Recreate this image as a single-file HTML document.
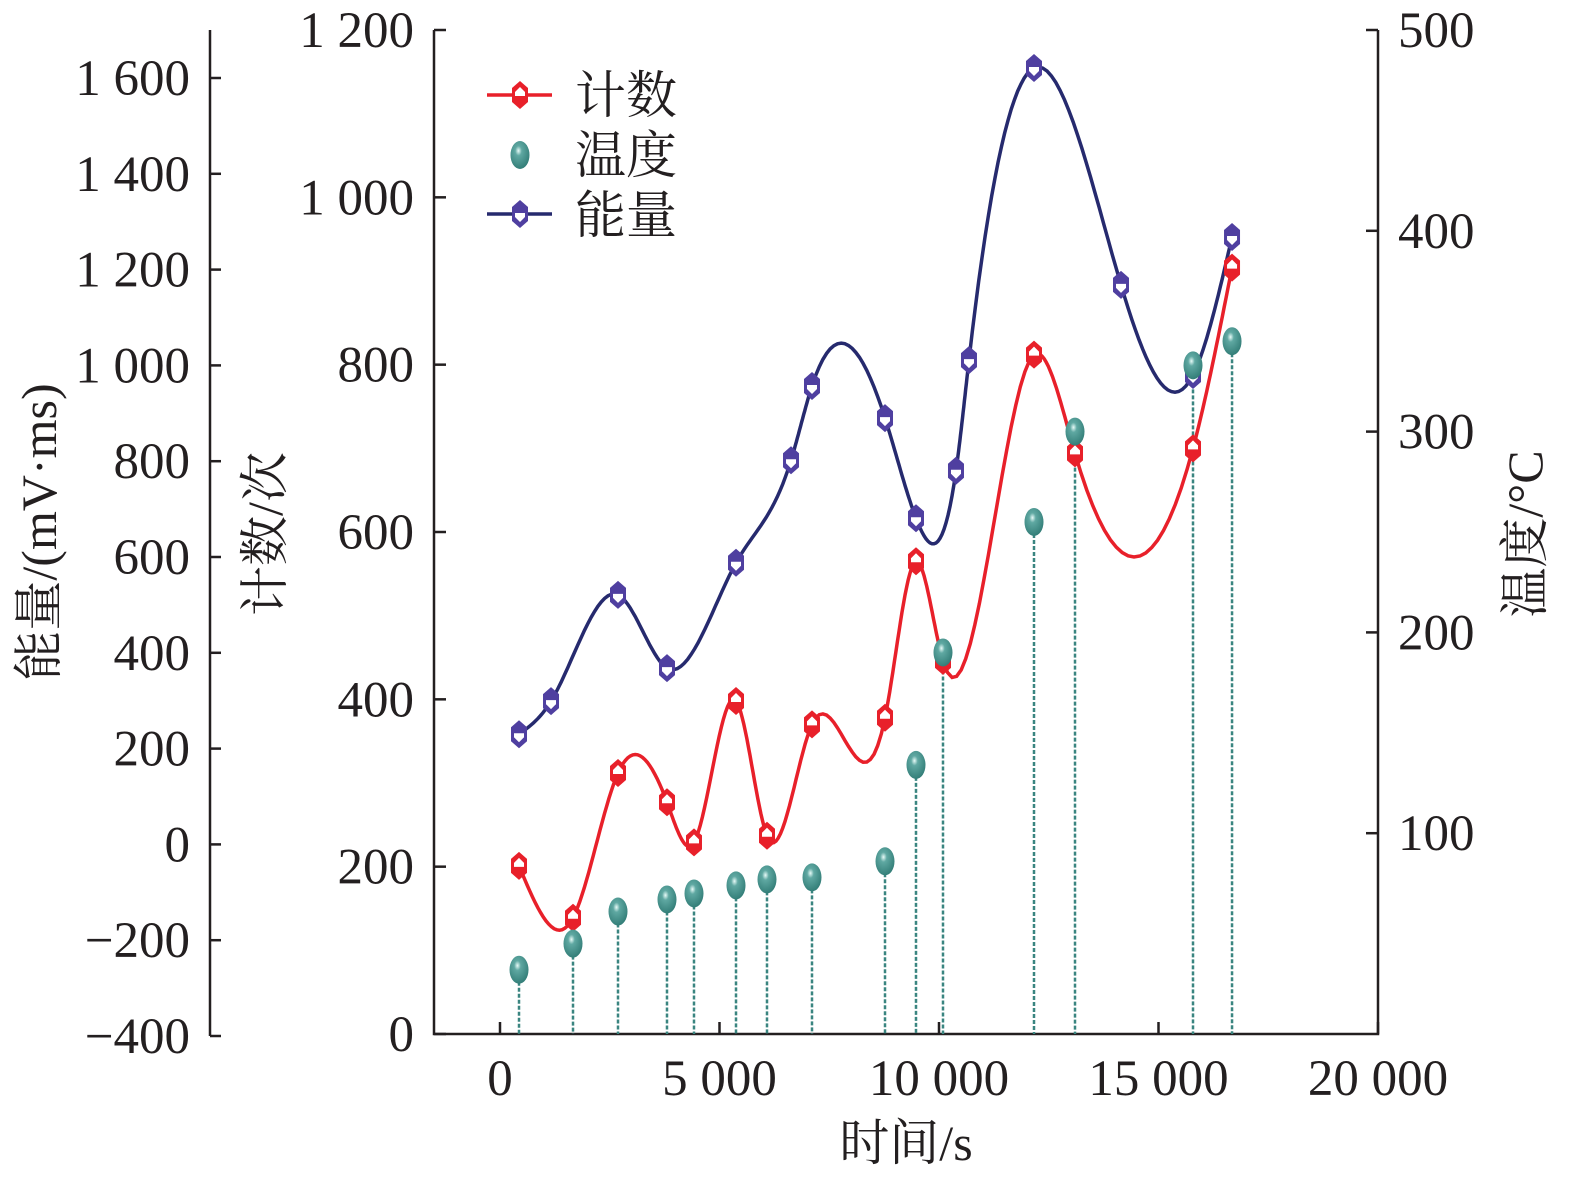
<!DOCTYPE html>
<html><head><meta charset="utf-8"><style>
html,body{margin:0;padding:0;background:#fff;}
svg text{font-family:"Liberation Serif","Noto Serif CJK SC",serif;fill:#231f20;}
</style></head><body>
<svg id="chart" width="1575" height="1183" viewBox="0 0 1575 1183" xmlns="http://www.w3.org/2000/svg">
<defs>
<radialGradient id="tg" cx="0.42" cy="0.35" r="0.7">
<stop offset="0" stop-color="#e8fbf8"/><stop offset="0.25" stop-color="#5fa8a2"/><stop offset="1" stop-color="#2f7a74"/>
</radialGradient>
</defs>
<g id="axes"></g>
<g id="series"></g>
<g id="legend"></g>
</svg>
<script>
const countTimes=[433,1663,2688,3804,4419,5376,6082,7107,8770,9476,10091,12164,13098,15786,16675];
const countValues=[201,139,312,277,229,398,237,370,378,565,446,812,694,700,916];
const energyTimes=[433,1162,2688,3804,5376,6629,7107,8770,9476,10387,10683,12164,14146,15786,16675];
const energyValues=[230,299,521,368,588,802,957,890,681,780,1011,1621,1168,980,1268];
const tempTimes=[433,1663,2688,3804,4419,5376,6082,7107,8770,9476,10091,12164,13098,15786,16675];
const tempValues=[32,45,61,67,70,74,77,78,86,134,190,255,300,333,345];
const xTicks=[0,5000,10000,15000,20000];
const xTickLabels=["0","5 000","10 000","15 000","20 000"];
const countTicks=[0,200,400,600,800,1000,1200];
const countTickLabels=["0","200","400","600","800","1 000","1 200"];
const energyTicks=[-400,-200,0,200,400,600,800,1000,1200,1400,1600];
const energyTickLabels=["\u2212400","\u2212200","0","200","400","600","800","1 000","1 200","1 400","1 600"];
const tempTicks=[100,200,300,400,500];
const tempTickLabels=["100","200","300","400","500"];

const NS="http://www.w3.org/2000/svg";
const X=t=>500+t*(219.5/5000);
const YC=v=>1034-v*(1004/1200);
const YE=v=>1036-(v+400)*(958/2000);
const YT=v=>1034-v*(1004/500);
function mk(tag,attrs,parent){const e=document.createElementNS(NS,tag);for(const k in attrs)e.setAttribute(k,attrs[k]);parent.appendChild(e);return e;}
const axes=document.getElementById('axes'),series=document.getElementById('series'),legend=document.getElementById('legend');
function txt(s,x,y,anchor,size,parent,name){const e=mk('text',{x:x,y:y,'text-anchor':anchor,'font-size':size},parent);e.textContent=s;return e;}

let f=mk('path',{d:'M434,30 V1034 H1378 V30',fill:'none',stroke:'#231f20','stroke-width':2.5},axes);


let ea=mk('line',{x1:210,y1:30,x2:210,y2:1036,stroke:'#231f20','stroke-width':2.5},axes);


energyTicks.forEach((v,i)=>{const y=YE(v);mk('line',{x1:210,x2:221,y1:y,y2:y,stroke:'#231f20','stroke-width':2.5},axes);txt(energyTickLabels[i],190,y+17,'end',51,axes,'energy-tick-label');});
countTicks.forEach((v,i)=>{const y=YC(v);mk('line',{x1:434,x2:446,y1:y,y2:y,stroke:'#231f20','stroke-width':2.5},axes);txt(countTickLabels[i],414,y+17,'end',51,axes,'count-tick-label');});
tempTicks.forEach((v,i)=>{const y=YT(v);mk('line',{x1:1366,x2:1378,y1:y,y2:y,stroke:'#231f20','stroke-width':2.5},axes);txt(tempTickLabels[i],1398,y+17,'start',51,axes,'temp-tick-label');});
xTicks.forEach((v,i)=>{const x=X(v);mk('line',{x1:x,x2:x,y1:1022,y2:1034,stroke:'#231f20','stroke-width':2.5},axes);txt(xTickLabels[i],x,1095,'middle',51,axes,'x-tick-label');});
txt('时间/s',906,1160,'middle',50,axes,'x-axis-title');
let t1=txt('能量/(mV·ms)',0,0,'middle',50,axes,'energy-axis-title');t1.setAttribute('transform','translate(56,532) rotate(-90)');
let t2=txt('计数/次',0,0,'middle',50,axes,'count-axis-title');t2.setAttribute('transform','translate(282,534) rotate(-90)');
let t3=txt('温度/°C',0,0,'middle',50,axes,'temp-axis-title');t3.setAttribute('transform','translate(1542,534) rotate(-90)');

function spline(xs,ys){const n=xs.length,h=[],a=[],l=[1],mu=[0],z=[0],c=new Array(n).fill(0),b=[],d=[];
for(let i=0;i<n-1;i++)h[i]=xs[i+1]-xs[i];
for(let i=1;i<n-1;i++)a[i]=3/h[i]*(ys[i+1]-ys[i])-3/h[i-1]*(ys[i]-ys[i-1]);
for(let i=1;i<n-1;i++){l[i]=2*(xs[i+1]-xs[i-1])-h[i-1]*mu[i-1];mu[i]=h[i]/l[i];z[i]=(a[i]-h[i-1]*z[i-1])/l[i];}
for(let j=n-2;j>=0;j--){c[j]=(j>0?z[j]:0)-(j>0?mu[j]:0)*c[j+1];b[j]=(ys[j+1]-ys[j])/h[j]-h[j]*(c[j+1]+2*c[j])/3;d[j]=(c[j+1]-c[j])/(3*h[j]);}
const pts=[];for(let j=0;j<n-1;j++){for(let k=0;k<20;k++){const dx=h[j]*k/20;pts.push([xs[j]+dx,ys[j]+b[j]*dx+c[j]*dx*dx+d[j]*dx*dx*dx]);}}
pts.push([xs[n-1],ys[n-1]]);return pts;}
function hexMarker(x,y,col,up,parent,name){const g=mk('g',{},parent);
mk('path',{d:`M${x},${y-14} L${x+8},${y-7} L${x+8},${y+7} L${x},${y+14} L${x-8},${y+7} L${x-8},${y-7}Z`,fill:col},g);
if(up)mk('path',{d:`M${x},${y-8} L${x+5},${y-3} L${x+5},${y+1} L${x-5},${y+1} L${x-5},${y-3}Z`,fill:'#fff'},g);
else mk('path',{d:`M${x},${y+8} L${x+5},${y+3} L${x+5},${y-1} L${x-5},${y-1} L${x-5},${y+3}Z`,fill:'#fff'},g);}
function tempMarker(x,y,parent,name){const e=mk('ellipse',{cx:x,cy:y,rx:9.5,ry:14,fill:'url(#tg)'},parent);}

tempTimes.forEach((t,i)=>{const s=mk('line',{x1:X(t),x2:X(t),y1:YT(tempValues[i]),y2:1034,stroke:'#3a8580','stroke-width':2.5,'stroke-dasharray':'4,2'},series);

});
let cp=spline(countTimes,countValues).map(p=>X(p[0]).toFixed(1)+','+YC(p[1]).toFixed(1));
let cl=mk('polyline',{points:cp.join(' '),fill:'none',stroke:'#e8202a','stroke-width':3.5},series);


let ep=spline(energyTimes,energyValues).map(p=>X(p[0]).toFixed(1)+','+YE(p[1]).toFixed(1));
let el=mk('polyline',{points:ep.join(' '),fill:'none',stroke:'#262a6e','stroke-width':3.5},series);


countTimes.forEach((t,i)=>hexMarker(X(t),YC(countValues[i]),'#e8202a',true,series,'count-point'));
energyTimes.forEach((t,i)=>hexMarker(X(t),YE(energyValues[i]),'#4f3fa0',false,series,'energy-point'));
tempTimes.forEach((t,i)=>tempMarker(X(t),YT(tempValues[i]),series,'temp-point'));

mk('line',{x1:487,x2:552,y1:95,y2:95,stroke:'#e8202a','stroke-width':3.5},legend);
hexMarker(520,95,'#e8202a',true,legend,'legend-count-marker');
txt('计数',575,113,'start',51,legend,'legend-count-label');
tempMarker(520,155,legend,'legend-temp-marker');
txt('温度',575,173,'start',51,legend,'legend-temp-label');
mk('line',{x1:487,x2:552,y1:214,y2:214,stroke:'#262a6e','stroke-width':3.5},legend);
hexMarker(520,214,'#4f3fa0',false,legend,'legend-energy-marker');
txt('能量',575,233,'start',51,legend,'legend-energy-label');
</script>
</body></html>
